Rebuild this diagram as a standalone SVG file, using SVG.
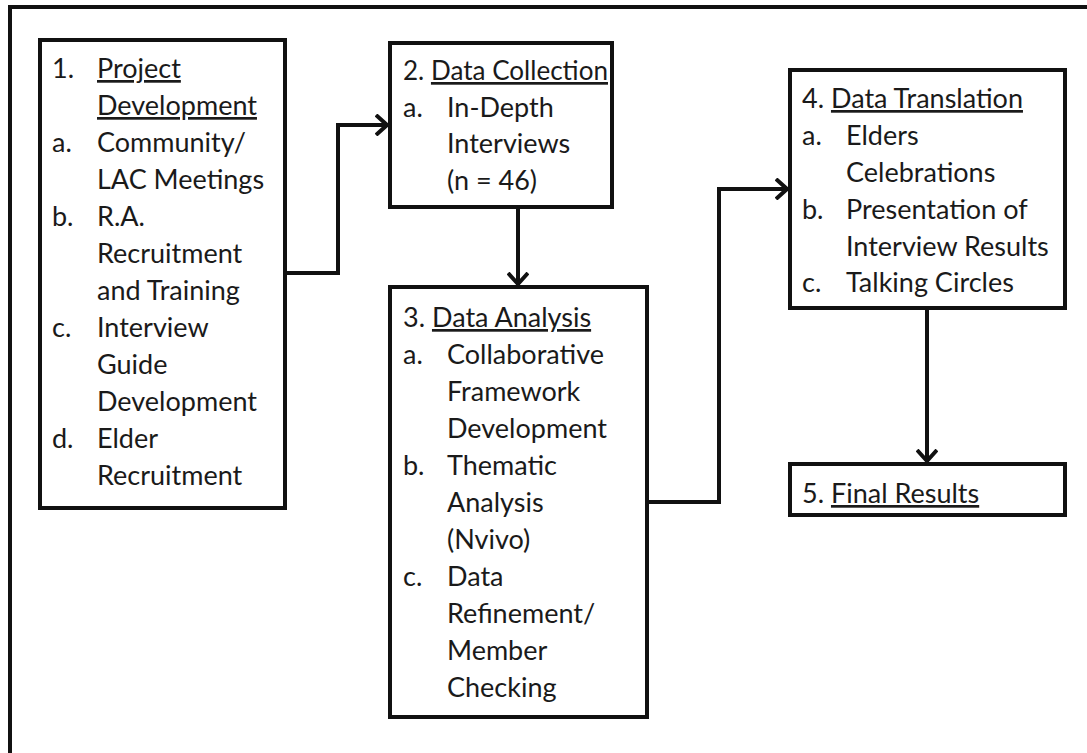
<svg xmlns="http://www.w3.org/2000/svg" width="1087" height="753" viewBox="0 0 1087 753">
  <style>
    .box { fill: #ffffff; stroke: #111111; stroke-width: 4; }
    .frame { fill: none; stroke: #111111; stroke-width: 4; }
    .wire { fill: none; stroke: #111111; stroke-width: 4; stroke-linejoin: miter; }
    text { font-family: Lato, "Open Sans", "Liberation Sans", sans-serif; font-size: 27px; fill: #1a1a1a; }
    .u { text-decoration: underline; }
  </style>
  <defs>
    <marker id="chev" viewBox="0 0 14 22" refX="13" refY="11" markerWidth="14" markerHeight="22" markerUnits="userSpaceOnUse" orient="auto">
      <path d="M1 1 L12 11 L1 21" fill="none" stroke="#111111" stroke-width="4"/>
    </marker>
  </defs>

  <rect id="frame" class="frame" x="10" y="7" width="1100" height="770"/>

  <g id="connectors">
    <path class="wire" d="M285 273 H338 V125 H388" marker-end="url(#chev)"/>
    <path class="wire" d="M518 207 V285" marker-end="url(#chev)"/>
    <path class="wire" d="M647 502 H719 V189 H788" marker-end="url(#chev)"/>
    <path class="wire" d="M927 308 V462" marker-end="url(#chev)"/>
  </g>

  <g id="node-1">
    <rect class="box" x="40" y="40" width="245" height="468"/>
    <text x="52" y="78">1.</text><text x="97" y="78" class="u">Project</text>
    <text x="97" y="115" class="u">Development</text>
    <text x="52" y="152">a.</text><text x="97" y="152">Community/</text>
    <text x="97" y="189">LAC Meetings</text>
    <text x="52" y="226">b.</text><text x="97" y="226">R.A.</text>
    <text x="97" y="263">Recruitment</text>
    <text x="97" y="300">and Training</text>
    <text x="52" y="337">c.</text><text x="97" y="337">Interview</text>
    <text x="97" y="374">Guide</text>
    <text x="97" y="411">Development</text>
    <text x="52" y="448">d.</text><text x="97" y="448">Elder</text>
    <text x="97" y="485">Recruitment</text>
  </g>

  <g id="node-2">
    <rect class="box" x="390" y="43" width="222" height="164"/>
    <text x="403" y="80" textLength="205" lengthAdjust="spacingAndGlyphs">2. <tspan class="u">Data Collection</tspan></text>
    <text x="403" y="117">a.</text><text x="447" y="117">In-Depth</text>
    <text x="447" y="153">Interviews</text>
    <text x="447" y="190">(n = 46)</text>
  </g>

  <g id="node-3">
    <rect class="box" x="390" y="287" width="257" height="430"/>
    <text x="403" y="327">3. <tspan class="u">Data Analysis</tspan></text>
    <text x="403" y="364">a.</text><text x="447" y="364">Collaborative</text>
    <text x="447" y="401">Framework</text>
    <text x="447" y="438">Development</text>
    <text x="403" y="475">b.</text><text x="447" y="475">Thematic</text>
    <text x="447" y="512">Analysis</text>
    <text x="447" y="549">(Nvivo)</text>
    <text x="403" y="586">c.</text><text x="447" y="586">Data</text>
    <text x="447" y="623">Refinement/</text>
    <text x="447" y="660">Member</text>
    <text x="447" y="697">Checking</text>
  </g>

  <g id="node-4">
    <rect class="box" x="790" y="70" width="275" height="238"/>
    <text x="802" y="108">4. <tspan class="u">Data Translation</tspan></text>
    <text x="802" y="145">a.</text><text x="846" y="145">Elders</text>
    <text x="846" y="182">Celebrations</text>
    <text x="802" y="219">b.</text><text x="846" y="219">Presentation of</text>
    <text x="846" y="256">Interview Results</text>
    <text x="802" y="292">c.</text><text x="846" y="292">Talking Circles</text>
  </g>

  <g id="node-5">
    <rect class="box" x="790" y="464" width="275" height="51"/>
    <text x="802" y="503">5. <tspan class="u">Final Results</tspan></text>
  </g>
</svg>
